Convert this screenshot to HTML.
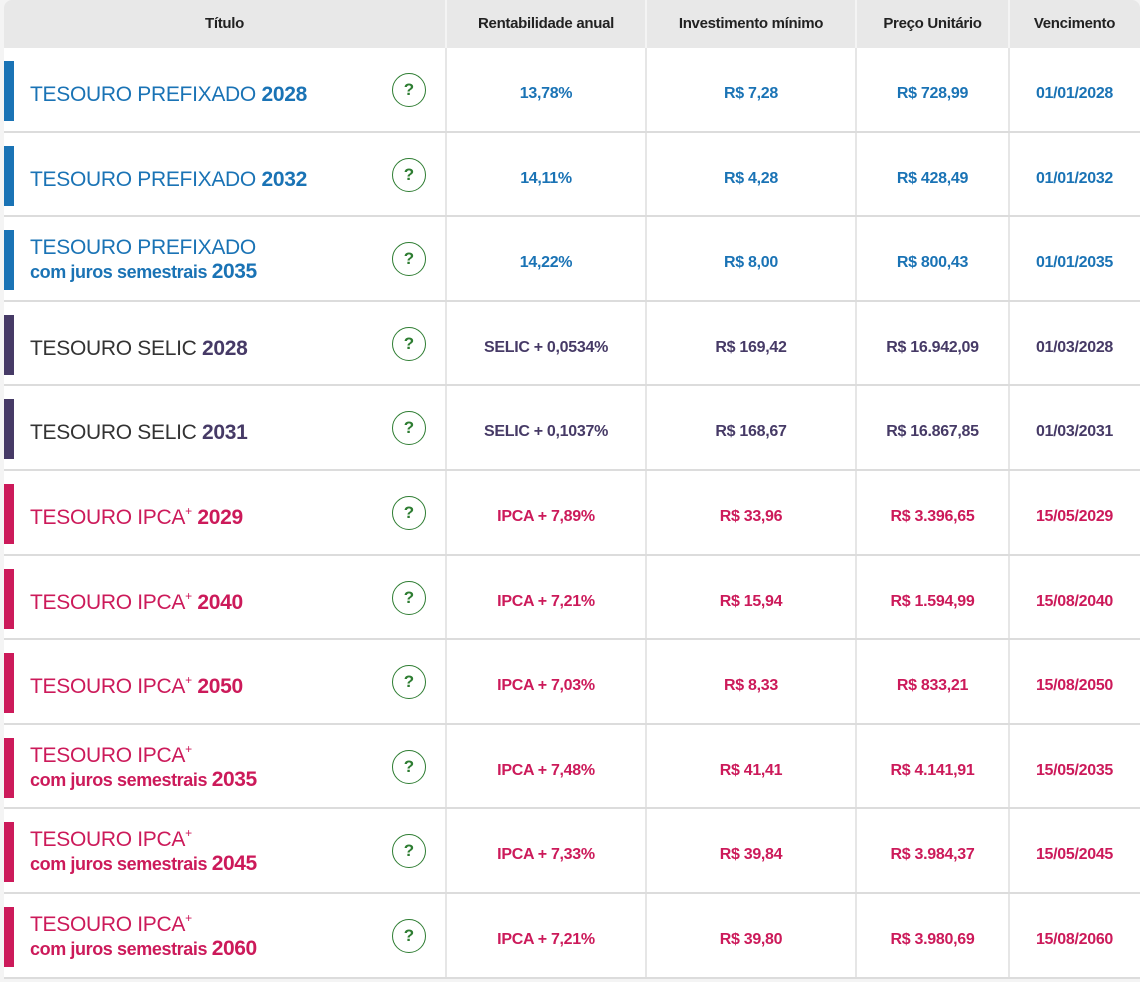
<!DOCTYPE html>
<html><head><meta charset="utf-8"><style>
*{margin:0;padding:0;box-sizing:border-box}
body{width:1140px;height:974px;background:#f4f4f4;font-family:"Liberation Sans",sans-serif;position:relative;overflow:hidden}
.hdr{position:absolute;left:4px;top:0;width:1136px;height:48px;background:#e8e8e8;border-radius:8px 8px 0 0}
.h{position:absolute;top:0;height:48px;line-height:48px;text-align:center;font-weight:bold;font-size:15px;color:#222;letter-spacing:-0.3px}
.row{position:absolute;left:4px;width:1136px;height:84.6px;background:#fff;border-bottom:2px solid #dcdcdc}
.vl{position:absolute;top:0;bottom:0;width:2px;background:#e6e6e6}
.bar{position:absolute;left:0;top:13px;width:10px;height:60px}
.t{position:absolute;left:26px;top:6px;height:82px;display:flex;flex-direction:column;justify-content:center;font-size:21px;letter-spacing:-0.3px}
.t.two{top:2px}
.t .l1{display:block;line-height:24px}
.t .l2{display:block;font-size:18px;font-weight:bold;letter-spacing:-0.4px;line-height:24px}
.t .l2 b{font-size:21px}
sup{font-size:12px;vertical-align:9px;line-height:0}
.q{position:absolute;left:388px;top:25px;width:34px;height:34px;border:1.5px solid #2e7d32;border-radius:50%;color:#2e7d32;font-weight:bold;font-size:17px;text-align:center;line-height:31px}
.c{position:absolute;top:4px;height:84px;line-height:84px;text-align:center;font-weight:bold;font-size:16px;letter-spacing:-0.3px}
</style></head><body>
<div class="hdr"></div>
<div class="h" style="left:4px;width:441px">Título</div>
<div class="h" style="left:446px;width:200px">Rentabilidade anual</div>
<div class="h" style="left:646px;width:210px">Investimento mínimo</div>
<div class="h" style="left:856px;width:153px">Preço Unitário</div>
<div class="h" style="left:1009px;width:131px">Vencimento</div>
<div style="position:absolute;left:445px;top:0;width:2px;height:48px;background:#f4f4f4"></div>
<div style="position:absolute;left:645px;top:0;width:2px;height:48px;background:#f4f4f4"></div>
<div style="position:absolute;left:855px;top:0;width:2px;height:48px;background:#f4f4f4"></div>
<div style="position:absolute;left:1008px;top:0;width:2px;height:48px;background:#f4f4f4"></div>
<div id="rows"></div>
<script>
const B='#1a73b5',S='#463a66',P='#cc1a5a';
const SP='<sup>+</sup>';
const d=[
[B,'TESOURO PREFIXADO ','2028',null,'13,78%','R$ 7,28','R$ 728,99','01/01/2028'],
[B,'TESOURO PREFIXADO ','2032',null,'14,11%','R$ 4,28','R$ 428,49','01/01/2032'],
[B,'TESOURO PREFIXADO','','2035','14,22%','R$ 8,00','R$ 800,43','01/01/2035'],
[S,'TESOURO SELIC ','2028',null,'SELIC + 0,0534%','R$ 169,42','R$ 16.942,09','01/03/2028'],
[S,'TESOURO SELIC ','2031',null,'SELIC + 0,1037%','R$ 168,67','R$ 16.867,85','01/03/2031'],
[P,'TESOURO IPCA'+SP+' ','2029',null,'IPCA + 7,89%','R$ 33,96','R$ 3.396,65','15/05/2029'],
[P,'TESOURO IPCA'+SP+' ','2040',null,'IPCA + 7,21%','R$ 15,94','R$ 1.594,99','15/08/2040'],
[P,'TESOURO IPCA'+SP+' ','2050',null,'IPCA + 7,03%','R$ 8,33','R$ 833,21','15/08/2050'],
[P,'TESOURO IPCA'+SP,'','2035','IPCA + 7,48%','R$ 41,41','R$ 4.141,91','15/05/2035'],
[P,'TESOURO IPCA'+SP,'','2045','IPCA + 7,33%','R$ 39,84','R$ 3.984,37','15/05/2045'],
[P,'TESOURO IPCA'+SP,'','2060','IPCA + 7,21%','R$ 39,80','R$ 3.980,69','15/08/2060']];
let h='';
d.forEach((r,i)=>{const top=48+i*84.6;const c=r[0];const tc=c==S?'#333':c;
let t=`<span class="l1">${r[1]}<b style="color:${c}">${r[2]}</b></span>`;
if(r[3])t+=`<span class="l2" style="color:${c}">com juros semestrais <b>${r[3]}</b></span>`;
h+=`<div class="row" style="top:${top}px;color:${c}">
<div class="bar" style="background:${c}"></div>
<div class="t${r[3]?' two':''}" style="color:${tc}">${t}</div>
<div class="q">?</div>
<div class="vl" style="left:441px"></div><div class="vl" style="left:641px"></div><div class="vl" style="left:851px"></div><div class="vl" style="left:1004px"></div>
<div class="c" style="left:442px;width:200px">${r[4]}</div>
<div class="c" style="left:642px;width:210px">${r[5]}</div>
<div class="c" style="left:852px;width:153px">${r[6]}</div>
<div class="c" style="left:1005px;width:131px">${r[7]}</div></div>`;});
document.getElementById('rows').innerHTML=h;
</script>
</body></html>
